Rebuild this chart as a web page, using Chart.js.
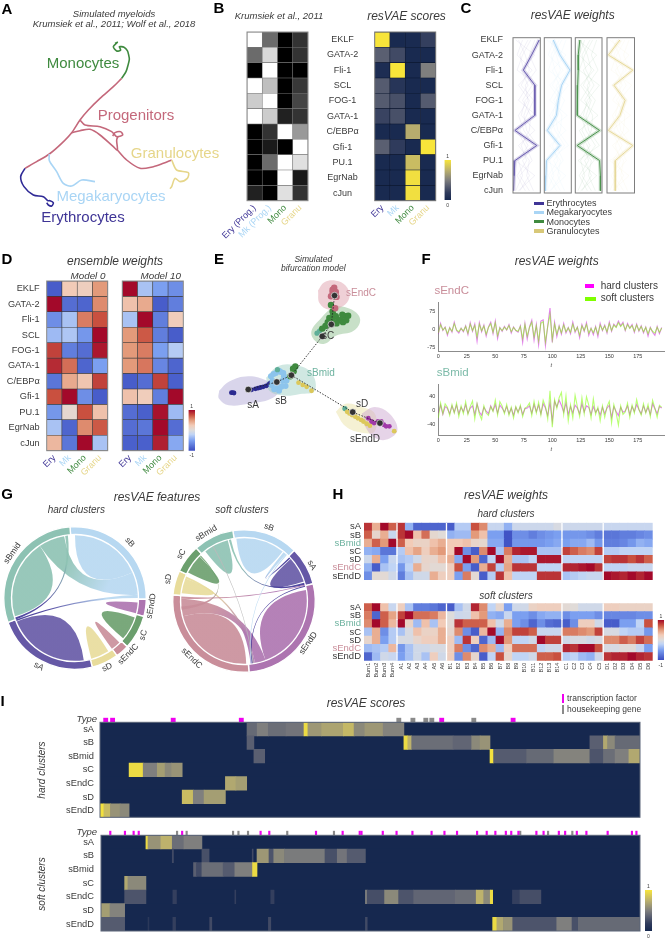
<!DOCTYPE html>
<html>
<head>
<meta charset="utf-8">
<title>resVAE figure</title>
<script src="https://cdn.jsdelivr.net/npm/chart.js@4/dist/chart.umd.js"></script>
<style>
html, body { margin: 0; padding: 0; background: #fff; }
#page { position: relative; width: 665px; height: 938px; overflow: hidden; font-family: "Liberation Sans", Arial, sans-serif; filter: blur(.3px); }
#page canvas { position: absolute; display: block; }
.txt { position: absolute; white-space: nowrap; line-height: 1; }
.sw { position: absolute; }
</style>
</head>
<body>
<div id="page"></div>
<script>
// ---- colours
const cEry = '#3f3596', cMk = '#a9d5f5', cMono = '#3f8a3f', cGranu = '#e6d68a', cProg = '#c4687b';
const cA = '#6558a6', cB = '#b7d8f1', cBmid = '#8dc2b3', cC = '#6b9f6d', cD = '#e8dc9b', cEndC = '#c98e9a', cEndD = '#ad74b0';
const txtCol = '#3a3a3a';

// ---- labels
const genes = ['EKLF', 'GATA-2', 'Fli-1', 'SCL', 'FOG-1', 'GATA-1', 'C/EBPα', 'Gfi-1', 'PU.1', 'EgrNab', 'cJun'];
const cellShort = ['Ery', 'Mk', 'Mono', 'Granu'];
const cellProg = ['Ery (Prog.)', 'Mk (Prog.)', 'Mono', 'Granu'];
const cellCols = [cEry, cMk, cMono, cGranu];
const clusterRowsH = ['sA', 'sB', 'sBmid', 'sC', 'sD', 'sEndC', 'sEndD'];
const clusterRowsI = ['sA', 'sB', 'sBmid', 'sC', 'sEndC', 'sD', 'sEndD'];
const featureCols = ['Burn1', 'Burn2', 'Burn3', 'Burn4', 'A1', 'A2', 'A3', 'A4', 'A5', 'A6', 'B1', 'B2', 'B3', 'B4', 'B5', 'B6', 'B7', 'B8', 'B9', 'B10', 'B11', 'B12', 'B13', 'B14', 'C1', 'C2', 'C3', 'C4', 'C5', 'D1', 'D2', 'D3', 'D4', 'D5', 'D6'];
const featureGaps = [4, 10, 24, 29];

// ---- panel A: trajectory paths
const pathMono = [[345,130],[352,127],[340,140],[350,153],[362,150],[358,140],[372,142],[382,152],[386,165],[388,178],[385,192],[378,215],[365,235]];
const pathProg = [[365,235],[340,260],[300,295],[265,330],[240,360],[215,398],[185,430],[148,462],[110,485],[75,505]];
const pathEry = [[75,505],[62,530],[72,560],[100,585],[130,590],[143,602],[150,602],[160,608],[155,618],[145,615],[140,608]];
const pathProgB = [[240,360],[255,375],[300,380],[335,395],[350,410],[368,405],[362,395],[345,398],[338,408]];
const pathProgC = [[215,398],[240,392],[270,388],[300,405],[340,440],[352,450],[350,420],[355,408]];
const pathProgD = [[352,450],[380,480],[420,505],[460,500],[490,490],[515,480]];
const pathGranu = [[515,480],[530,510],[565,518],[562,535],[540,545],[525,535],[515,560],[510,566]];
const pathMk = [[148,462],[148,482],[170,515],[190,550],[215,558],[245,540],[285,545]];

// ---- panel B
const krumsiek = [
  [1, .42, 0, .2], [.42, .85, 0, .2], [0, 1, 0, 0], [1, .75, 0, .22], [.8, 1, 0, .27], [1, .8, .13, .2],
  [0, .2, 1, .6], [0, .1, 0, 1], [0, .42, 1, .88], [0, 0, 1, .1], [.13, 0, .88, .2]
];
const scoresB = [
  [1, .02, .03, .2], [.35, .25, .02, .02], [.05, 1, .02, .5], [.33, .12, .02, .02], [.33, .28, .02, .33], [.22, .28, .02, .02],
  [.02, .02, .72, .02], [.35, .18, .02, 1], [.02, .02, .8, .02], [.02, .02, .97, .02], [.02, .02, .97, .02]
];

// ---- panel C: main weight profile of each cell type, plus some weaker ones
const weightEry = [.96, .68, .38, .8, .8, .8, .07, .87, .07, .04, .02];
const weightMk = [.33, .58, .95, .64, .52, .45, .11, .58, .08, .06, .04];
const weightMono = [.17, .11, .11, .09, .08, .07, .91, .07, .91, .94, .94];
const weightGranu = [.47, .05, .94, .25, .66, .47, .05, .94, .3, .3, .3];
const faintA = [.2, .45, .6, .3, .75, .5, .25, .55, .2, .35, .1];
const faintB = [.55, .25, .4, .7, .35, .65, .6, .3, .5, .15, .45];
const faintC = [.8, .6, .85, .45, .55, .2, .4, .75, .35, .6, .25];
const faintD = [.1, .8, .3, .55, .2, .85, .15, .45, .7, .25, .6];
const faintE = [.65, .35, .15, .9, .45, .3, .8, .2, .6, .5, .75];
const faintF = [.35, .15, .7, .2, .6, .4, .5, .9, .1, .8, .2];

// ---- panel D
const model0 = [
  [-.9, .25, .2, .5], [1, -.8, -.85, .55], [-.6, -.3, .6, .75], [-.35, -.28, -.55, 1], [.8, -.7, -.8, .95], [.88, .65, -.85, -.5],
  [-.75, .42, .28, .8], [.75, 1, -.6, -.9], [-.55, .08, .75, .3], [-.3, -.85, .55, .72], [.35, -.75, 1, -.3]
];
const model10 = [
  [1, -.3, -.5, -.6], [.3, .42, -.9, -.7], [-.3, 1, -.7, .22], [.5, .72, -.7, -.9], [.5, .6, -.5, -.25], [.5, .62, -.65, -.85],
  [-.9, -.8, .8, -.88], [.3, .22, -.7, 1], [-.8, -.88, .97, -.35], [-.8, -.75, 1, -.8], [-.88, -.88, .92, -.45]
];

// ---- panel E: embedding
const hullEndC = [[955,130],[975,105],[1010,100],[1040,115],[1052,150],[1030,180],[990,190],[960,170]];
const hullC = [[1005,175],[1060,190],[1085,220],[1065,255],[1010,270],[975,295],[945,285],[935,255],[965,215]];
const hullBmid = [[795,400],[830,365],[880,360],[935,385],[945,440],[900,450],[850,455],[805,440]];
const hullA = [[650,440],[680,412],[740,395],[800,410],[835,435],[810,465],[740,480],[680,485],[650,465]];
const hullD = [[1010,505],[1040,480],[1090,490],[1130,510],[1130,565],[1090,570],[1040,550]];
const hullEndD = [[1090,510],[1130,490],[1175,510],[1200,560],[1170,590],[1130,585],[1100,550]];
const ptsNavy = [[692,446],[688,446],[696,447],[750,437],[762,434],[770,432],[778,430],[786,428],[795,425],[803,420],[808,416]];
const ptsLight = [[810,395],[818,388],[825,385],[835,378],[840,382],[815,410],[830,425],[845,410],[855,425],[835,440],[850,395],[820,435],[812,422],[842,428],[858,408],[848,385]];
const ptsTeal = [[960,255],[970,248],[952,262],[830,375],[1038,495]];
const ptsGreen = [[995,175],[1000,195],[990,215],[1002,205],[1010,210],[1018,222],[1025,222],[1040,210],[1048,208],[1032,228],[1012,232],[978,240],[985,228],[968,248],[880,380],[870,395],[885,365],[878,372],[1030,205],[1042,222],[1000,222]];
const ptsPink = [[1000,128],[1005,122],[1005,142],[995,148],[1012,150],[1008,185],[1000,135],[1010,135]];
const ptsYellow = [[895,415],[908,422],[920,428],[935,440],[1045,505],[1052,510],[1060,515],[1070,520],[1078,525],[1088,530],[1095,535],[1105,542],[1115,548],[1190,565]];
const ptsPurple = [[1110,525],[1120,535],[1128,540],[1140,535],[1150,535],[1158,545],[1165,550],[1175,550]];
const edgeUp = [[740,436],[828,413],[873,392],[968,272],[996,235],[1000,200],[1006,146]];
const edgeDown = [[873,392],[1062,506],[1146,540]];
const nodes = [[1006,146],[996,235],[968,272],[873,392],[828,413],[740,436],[1062,506],[1146,540]];

// ---- panel F: weights, every second t
const fHardEndC = [-20,25,-5,10,-25,8,-12,30,-5,-15, 5,-10,15,-22,28,-8,22,-50,28,-10, 18,-28,10,30,-18,35,-38,8,-8,12, -3,20,-15,10,-5,-12,15,-55,25,-40, 10,38,-45,20,-65,35,40,-68,15,90, -55,30,-30,15,-20,25,-15,8,-18,30, -12,10,-35,20,-8,28,-25,5,-22,12, -30,25,-5,18,-15,30,-8,22,10,35, 15,30,-5,25,5,20,-12,22,-8,15, -15,10,-28,8,-12,-25,12,-18,8];
const fSoftEndC = [-15,20,-3,8,-18,6,-8,24,-2,-10, 4,-7,12,-16,22,-5,16,-32,22,-6, 14,-20,8,24,-12,28,-26,6,-5,9, -2,16,-10,8,-4,-8,12,-38,20,-28, 8,30,-32,15,-48,26,32,-52,12,62, -42,22,-20,12,-14,18,-10,6,-12,22, -8,8,-24,15,-5,20,-16,4,-14,9, -20,18,-3,14,-10,24,-5,18,8,28, 12,24,-3,20,4,16,-8,18,-5,12, -10,8,-18,6,-8,-16,9,-12,6];
const fHardBmid = [-8,14,-12,10,5,-10,12,-6,14,-10, 8,-4,15,-9,6,12,-12,18,-5,-14, 8,-3,-10,12,-2,16,-8,14,6,-6, 10,-10,5,-14,8,-5,10,-12,4,6, 12,-8,16,-4,14,-10,18,6,-15,22, -30,25,10,28,14,-5,20,-12,10,-8, 14,6,-10,18,-5,12,8,-12,10,-6, 4,-14,8,-10,6,14,-20,10,-4,-15, 8,-6,-2,12,-12,10,-4,16,2,-10, 12,-6,8,-12,18,4,-10,10,6];
const fSoftBmid = [-22,20,-10,18,8,-15,16,-8,20,-18, 12,-10,24,-12,10,26,-25,18,-10,-26, 12,-8,-15,10,-4,28,-14,24,12,-10, 16,-14,8,-22,10,-8,14,-18,6,10, 20,-15,25,-8,22,-14,28,10,-25,55, -48,30,5,35,50,-12,40,-30,15,-22, 42,10,-18,35,-10,38,14,-22,32,-12, 8,-30,12,-20,10,25,-36,16,-8,-42, 12,-12,-5,20,-20,14,-8,30,2,-14, 18,-8,16,-18,28,6,-20,14,8];

// ---- panel G: ring sizes in degrees, ribbons as [from arc, to arc] in degrees clockwise from the top
const hardRingNames = ['sB', 'sEndD', 'sC', 'sEndC', 'sD', 'sA', 'sBmid'];
const hardRing = [95, 14, 28, 11, 22, 84, 106];
const hardRingCols = [cB, cEndD, cC, cEndC, cD, cA, cBmid];
const hardLinks = [
  [[0, 66], [66, 66], cB, cB],
  [[253, 326], [326, 326], cBmid, cBmid],
  [[172, 248], [248, 248], cA, cA],
  [[94, 104], [104, 104], cEndD, cEndD],
  [[108, 130], [130, 130], cC, cC],
  [[135, 144], [144, 144], cEndC, cEndC],
  [[148, 165], [165, 165], cD, cD],
  [[326, 350], [66, 87], cBmid, cB],
  [[248.5, 250], [87, 90], cEry, cB],
  [[250, 252], [351, 353.5], cEry, cBmid]
];
const softRingNames = ['sB', 'sA', 'sEndD', 'sEndC', 'sD', 'sC', 'sBmid'];
const softRing = [54, 31, 100, 99, 20, 23, 33];
const softRingCols = [cB, cA, cEndD, cEndC, cD, cC, cBmid];
const softLinks = [
  [[-7, 38], [38, 38], cB, cB],
  [[322, 345], [345, 345], cBmid, cBmid],
  [[48, 72], [72, 72], cA, cA],
  [[297, 315], [315, 315], cC, cC],
  [[277, 291], [291, 291], cD, cD],
  [[80, 160], [160, 160], cEndD, cEndD],
  [[178, 256], [256, 256], cEndC, cEndC],
  [[256, 272], [160, 170], cEndC, cEndD],
  [[291, 293], [170, 174], cD, cEndD],
  [[346, 348], [73, 75], cBmid, cEry],
  [[39, 42], [46, 47.5], cB, cEry],
  [[272, 274], [75, 76], cEndC, cEndD],
  [[76, 76.8], [172, 173], cEry, cEry],
  [[42, 43], [173, 174], cB, cB],
  [[330, 331], [171, 172], '#b9b9b9', '#b9b9b9'],
  [[315.5, 316.5], [262, 265], cC, cEndC]
];

// ---- panel H
const hardH = [
  [.85,.4,1,.7, .85,-.4,-.85,-.85,-.85,-.85, -.9,-.25,-.25,.75,.55,-.15,-.15,-.4,-.12,-.12,-.12,-.12,-.12,-.05, -.12,-.12,-.12,-.12,-.12, -.15,-.15,-.15,-.15,-.15,-.15],
  [.7,.1,.4,-.15, .85,1,.3,.65,.08,.02, -.4,-.35,-.35,.5,.3,-.5,-.5,-.95,-.6,-.6,-.7,-.6,-.55,-.5, -.55,-.55,-.55,-.6,-.7, -.75,-.75,-.7,-.7,-.65,-.6],
  [.4,.7,.5,1, .7,.25,.15,.15,.3,.4, .25,.25,.3,.12,.08,-.45,-.45,-.95,-.55,-.55,-.55,-.55,-.5,-.45, -.5,-.45,-.45,-.35,-.55, -.7,-.7,-.65,-.55,-.4,-.45],
  [-.4,-.45,-.75,-.75, -.25,.3,.45,.2,.4,.5, .25,1,-.6,-.9,.55,1,-.3,.6,.9,.95,.95,-.3,-.3,-.3, .8,.7,.6,.55,.8, -.25,-.25,-.2,-.2,-.2,-.2],
  [-.12,.4,-.5,-.15, -.3,-.25,-.1,.12,.1,.3, .4,-.45,1,.5,-.85,-.2,1,.4,-.3,-.3,-.2,.95,.95,.95, -.2,-.2,-.2,-.2,-.2, .8,.85,.85,.75,.85,.7],
  [-.4,-.9,-.3,-.2, -.55,-.2,.4,.1,.05,.05, .2,.75,-.5,-.9,.4,.8,-.25,.45,.85,.85,.85,-.2,-.2,-.2, .9,.9,.95,1,.85, -.2,-.2,-.2,-.15,-.15,-.15],
  [-.6,.05,.05,-.1, -.7,-.3,-.1,-.1,.4,.2, .2,-.5,.6,.05,-.9,-.25,.85,.3,-.2,-.2,-.2,.85,.85,.85, -.3,-.25,-.2,-.15,-.15, 1,.95,.9,1,.9,1]
];
const softH = [
  [.7,1,.3,-.15, .2,-.3,-.7,-.7,-.75,-.85, -.9,-.3,-.1,.9,.55,-.2,.1,-.5,-.1,-.1,.15,.2,.2,.2, .05,.02,-.1,-.1,-.1, .2,.2,.15,.15,.15,.15],
  [.6,-.85,.7,.45, .8,1,.65,.65,.6,.35, 0,-.12,-.1,.3,.5,-.4,-.45,-.15,-.5,-.5,-.6,-.45,-.4,-.4, -.6,-.5,-.5,-.5,-.6, -.65,-.65,-.65,-.65,-.6,-.6],
  [.55,1,.7,.35, 1,.15,-.35,.3,-.3,.25, .05,.85,.7,.7,.7,.3,-.1,.4,-.5,-.6,-.85,-.6,-.8,-.85, -.9,-.6,.2,.2,-.1, -.9,-.9,-.5,-.5,-.2,.75],
  [-.3,.4,-.6,-.25, -.3,-.05,.3,.15,.15,.4, .1,.55,-.6,-.9,.35,1,-.4,.55,.8,.8,.7,-.15,-.15,-.15, .6,.6,.55,.5,.8, -.05,-.05,-.2,-.25,-.25,-.55],
  [.1,.4,-.5,-.25, -.05,-.05,.1,.2,.2,.4, .2,-.35,.85,.2,-.85,-.35,1,.5,-.2,-.2,-.1,1,.8,.8, -.1,-.05,-.05,-.1,-.05, .55,.55,.7,.6,.8,.65],
  [-.35,-.3,-.25,.35, -.55,-.3,-.1,-.1,-.05,-.05, .2,.6,-.6,-.85,.55,.4,-.35,.2,.65,.65,.65,-.2,-.1,-.1, .9,.85,1,1,.75, -.05,-.05,.02,.02,-.15,-.5],
  [-.85,-.35,-.1,-.15, -.5,-.3,-.1,-.3,.2,-.1, .2,-.6,.55,.1,-.9,-.2,.75,.1,-.2,-.2,-.1,.7,.7,.75, -.25,-.2,-.35,-.4,-.1, .85,.9,.9,1,.9,.85]
];

// ---- panel I: [first gene, last gene, score], 180 genes, everything else is 0
const iHardA = [[49,52.4,.4],[52.4,56.1,.5],[56.1,62,.42],[62,68,.45],[68,69.3,.95],[69.3,73.9,.62],[73.9,81.1,.68],[81.1,84.7,.78],[84.7,88.3,.55],[88.3,94.4,.62],[94.4,101.3,.52]];
const iHardB = [[49,51.3,.35],[101.3,102.6,.95],[102.6,103.9,.75],[103.9,117.7,.42],[117.7,123.9,.38],[123.9,126.7,.55],[126.7,130,.6],[163.3,167.8,.35],[167.8,169.2,.7],[169.2,171.7,.55],[171.7,180,.4]];
const iHardBmid = [[51.3,54.9,.35],[130,131.2,.98],[131.2,142.2,.33],[142.2,151.3,.4],[151.3,163.3,.52],[163.3,167.8,.3],[167.8,171.7,.42],[171.7,176.3,.5],[176.3,180,.7]];
const iHardC = [[9.7,14.4,.95],[14.4,19.1,.5],[19.1,21.7,.65],[21.7,23.9,.55],[23.9,27.4,.6]];
const iHardEndC = [[41.8,45.3,.7],[45.3,48.9,.65]];
const iHardD = [[27.4,31.1,.8],[31.1,34.7,.5],[34.7,41.8,.65]];
const iHardEndD = [[0,1.3,.98],[1.3,3.5,.8],[3.5,6.7,.6],[6.7,9.7,.55]];
const iSoftA = [[15,15.7,.95],[15.7,20,.6],[20,23.8,.75],[23.8,27.7,.42],[27.7,33.7,.5]];
const iSoftB = [[23.8,24.2,.25],[33.7,36.1,.28],[50.5,50.8,.25],[52.1,56.1,.62],[56.1,57.7,.3],[57.7,61.3,.55],[61.3,74.8,.48],[74.8,78.9,.28],[78.9,82.2,.45],[82.2,88.3,.33]];
const iSoftBmid = [[30.9,31.9,.35],[31.9,33.7,.25],[33.7,40.8,.42],[40.8,44.7,.33],[44.7,50.6,.5],[50.6,52.1,.95]];
const iSoftC = [[7.9,9,.7],[9,15,.55]];
const iSoftEndC = [[7.9,15,.3],[24,25.2,.2],[44.7,45,.2],[56.7,57.8,.2],[88.3,88.9,.5],[88.9,94.7,.27],[94.7,99.4,.55],[99.4,104.4,.3],[104.4,118.3,.38],[118.3,125.3,.42],[125.3,127.8,.75],[127.8,130,.55],[130,130.8,.95],[137.4,139.9,.2],[139.9,146.9,.27]];
const iSoftD = [[0,3,.65],[3,7.9,.52]];
const iSoftEndD = [[0,7.9,.33],[15.7,16,.15],[24,24.9,.2],[36.3,37,.25],[55.9,56.7,.25],[88.3,88.9,.25],[130.8,132.2,.95],[132.2,134.4,.7],[134.4,137.5,.6],[137.5,152.2,.3],[152.2,157.3,.5],[157.3,159.4,.28],[159.4,180,.4]];
const hardTF = [1.9, 4.2, 24.4, 47.1, 113.9, 137.7];
const hardHK = [99.6, 104.3, 108.6, 110.6, 124.6];
const softTF = [3.1, 8, 10.9, 12.6, 27.1, 53.3, 56.2, 71.8, 80.7, 86.4, 87, 94.1, 98.7, 104, 110.4, 114.7, 118.9, 125.6, 128.8, 131.7, 135.2, 137, 139.4, 145.4, 147.8, 152.9, 155, 158.9, 162.1, 169.2, 177.3, 178.8];
const softHK = [25.4, 28.6, 44.1, 45.9, 49.1, 62.2, 77.8, 140, 149.3, 157.4];

// ---- colour maps
const scoreStops = [[0, '#16284f'], [.18, '#2f3b5c'], [.35, '#5a5f71'], [.5, '#7f7f7e'], [.75, '#bdb26c'], [1, '#f8e53a']];
const weightStops = [[-1, '#3b4cc0'], [-.5, '#7b9ff0'], [-.2, '#c0d4f5'], [0, '#dedcdb'], [.25, '#f2cbb7'], [.5, '#e39a7a'], [.75, '#c9503f'], [1, '#a3092a']];
function hexRgb(h) { return [1, 3, 5].map(i => parseInt(h.substr(i, 2), 16)); }
function rampColor(stops, v) {
  let i = 0;
  while (i < stops.length - 2 && v > stops[i + 1][0]) i++;
  const a = stops[i], b = stops[i + 1];
  const t = Math.min(1, Math.max(0, (v - a[0]) / (b[0] - a[0])));
  const ca = hexRgb(a[1]), cb = hexRgb(b[1]);
  return 'rgb(' + ca.map((c, k) => Math.round(c + (cb[k] - c) * t)).join(',') + ')';
}
const grayColor = v => { const g = Math.round(v * 255); return 'rgb(' + g + ',' + g + ',' + g + ')'; };
const scoreColor = v => rampColor(scoreStops, v);
const weightColor = v => rampColor(weightStops, v);

// ---- helpers
Chart.defaults.animation = false;
Chart.defaults.events = [];
Chart.defaults.responsive = false;
Chart.defaults.plugins.legend.display = false;
Chart.defaults.plugins.tooltip.enabled = false;
Chart.defaults.font.family = '"Liberation Sans", Arial, sans-serif';
Chart.defaults.color = txtCol;

const page = document.getElementById('page');
const noGrid = { display: false, drawTicks: false };

function addText(str, x, y, o = {}) {
  const d = document.createElement('div');
  d.className = 'txt';
  d.textContent = str;
  d.style.left = x + 'px';
  d.style.top = y + 'px';
  d.style.fontSize = (o.size || 9) + 'px';
  d.style.color = o.color || txtCol;
  if (o.italic) d.style.fontStyle = 'italic';
  if (o.bold) d.style.fontWeight = 'bold';
  const ax = o.left ? '0' : '-50%';
  d.style.transform = 'translate(' + ax + ',-50%) rotate(' + (o.rot || 0) + 'deg)';
  page.appendChild(d);
}
function addSwatch(x, y, w, h, color) {
  const d = document.createElement('div');
  d.className = 'sw';
  d.style.cssText = 'left:' + x + 'px;top:' + y + 'px;width:' + w + 'px;height:' + h + 'px;background:' + color;
  page.appendChild(d);
}
// canvas placed so the plot area lands exactly on box
function mount(box, ml = 0, mb = 0, pl = 2, pr = 2, pt = 2) {
  const cx = Math.floor(box.l - ml - pl), cy = Math.floor(box.t - pt);
  const w = Math.ceil(box.r + pr) - cx, h = Math.ceil(box.b + mb + 2) - cy;
  const c = document.createElement('canvas');
  c.width = w; c.height = h;
  c.style.left = cx + 'px'; c.style.top = cy + 'px';
  page.appendChild(c);
  return { c, ctx: c.getContext('2d'), padding: { left: box.l - ml - cx, top: box.t - cy, right: w - (box.r - cx), bottom: h - (box.b + mb - cy) }, area: { l: box.l - cx, t: box.t - cy, r: box.r - cx, b: box.b - cy } };
}
const fit = (w, h) => s => {
  if (w != null) s.width = w;
  if (h != null) s.height = h;
  s.paddingLeft = s.paddingRight = s.paddingTop = s.paddingBottom = 0;
};
const framePlugin = (color, width) => ({
  id: 'frame',
  afterDatasetsDraw(chart) {
    const a = chart.chartArea, ctx = chart.ctx;
    ctx.save();
    ctx.strokeStyle = color;
    ctx.lineWidth = width;
    ctx.strokeRect(a.left, a.top, a.right - a.left, a.bottom - a.top);
    ctx.restore();
  }
});

// floating horizontal bars, used for all heatmaps: bars = [{row, from, to, color}]
function bandChart(o) {
  const m = mount(o.box, o.ml || 0, o.mb || 0, o.pl === undefined ? 2 : o.pl);
  const colors = o.bars.map(b => typeof b.color === 'function' ? b.color(m.ctx, m.area) : b.color);
  const scales = {
    x: { type: 'linear', min: 0, max: o.xMax, display: false },
    y: {
      type: 'category', labels: o.rows, display: !!o.ml,
      grid: noGrid, border: { display: false },
      ticks: { autoSkip: false, padding: o.yPad === undefined ? 4 : o.yPad, font: { size: o.yFont || 9, style: o.yStyle || 'normal' }, color: o.yColor || txtCol, crossAlign: o.yCross || 'near' },
      afterFit: fit(o.ml || 0, null)
    }
  };
  if (o.xLabels) {
    scales.xl = {
      type: 'category', axis: 'x', position: 'bottom', labels: o.xLabels, offset: true,
      grid: noGrid, border: { display: false },
      ticks: { autoSkip: false, minRotation: o.xRot, maxRotation: o.xRot, padding: o.xPad || 2, font: { size: o.xFont || 9 }, color: o.xColor || txtCol },
      afterFit: fit(null, o.mb)
    };
  }
  return new Chart(m.c, {
    type: 'bar',
    data: {
      datasets: [{
        data: o.bars.map(b => ({ y: b.row, x: [b.from, b.to] })),
        backgroundColor: colors,
        borderColor: o.cellBorder || 'rgba(0,0,0,0)',
        borderWidth: o.cellBorder ? .6 : 0,
        borderSkipped: false,
        barPercentage: 1,
        categoryPercentage: 1,
        xAxisID: 'x',
        yAxisID: 'y'
      }]
    },
    options: { indexAxis: 'y', layout: { padding: m.padding }, scales },
    plugins: o.frame ? [framePlugin(o.frame, 1)] : []
  });
}
function matrixBars(rows, matrix, colorFn) {
  const bars = [];
  matrix.forEach((vals, r) => vals.forEach((v, c) => bars.push({ row: rows[r], from: c, to: c + 1, color: colorFn(v) })));
  return bars;
}
function segmentBars(rows, segs, xMax) {
  const bars = rows.map(r => ({ row: r, from: 0, to: xMax, color: scoreColor(0) }));
  segs.forEach((list, r) => list.forEach(s => bars.push({ row: rows[r], from: s[0], to: s[1], color: scoreColor(s[2]) })));
  return bars;
}
function colorBar(box, stops, lo, hi, topLabel, botLabel) {
  bandChart({
    box, rows: ['scale'], xMax: 1,
    bars: [{ row: 'scale', from: 0, to: 1, color: (ctx, area) => {
      const g = ctx.createLinearGradient(0, area.b, 0, area.t);
      stops.forEach(s => g.addColorStop((s[0] - lo) / (hi - lo), s[1]));
      return g;
    } }]
  });
  const mid = (box.l + box.r) / 2;
  addText(topLabel, mid, box.t - 4, { size: 5 });
  addText(botLabel, mid, box.b + 4.5, { size: 5 });
}
const xy = arr => arr.map(p => ({ x: p[0], y: p[1] }));
// scatter with hidden axes, units are embedding coordinates
function embedChart(box, xr, yr, sets) {
  const m = mount(box);
  return new Chart(m.c, {
    type: 'scatter',
    data: { datasets: sets.slice().reverse() },
    options: {
      layout: { padding: m.padding },
      scales: {
        x: { type: 'linear', min: xr[0], max: xr[1], display: false },
        y: { type: 'linear', min: yr[0], max: yr[1], reverse: true, display: false }
      }
    }
  });
}

// ---- A
const lineSet = (arr, color, w = 1.6) => ({ data: xy(arr), showLine: true, borderColor: color, borderWidth: w, pointRadius: 0, tension: .3, fill: false });
embedChart({ l: 0, t: 30, r: 220, b: 240 }, [0, 660], [90, 720], [
  lineSet(pathProg, cProg), lineSet(pathProgB, cProg), lineSet(pathProgC, cProg), lineSet(pathProgD, cProg),
  lineSet(pathMono, cMono), lineSet(pathEry, '#2f2a96'), lineSet(pathMk, cMk), lineSet(pathGranu, cGranu)
]);
addText('Simulated myeloids', 114, 13.5, { size: 9.5, italic: true });
addText('Krumsiek et al., 2011; Wolf et al., 2018', 114, 23.5, { size: 9.5, italic: true });
addText('Monocytes', 83, 62, { size: 15, color: cMono });
addText('Progenitors', 136, 114, { size: 15, color: cProg });
addText('Granulocytes', 175, 152, { size: 15, color: cGranu });
addText('Megakaryocytes', 111, 195, { size: 15, color: cMk });
addText('Erythrocytes', 83, 216, { size: 15, color: cEry });

// ---- B
bandChart({
  box: { l: 247, t: 32, r: 308, b: 200.7 }, rows: genes, xMax: 4, mb: 45, pl: 34,
  xLabels: cellProg, xRot: 45, xFont: 9, xColor: c => cellCols[c.index],
  bars: matrixBars(genes, krumsiek, grayColor), frame: '#8a8a8a', cellBorder: '#777'
});
bandChart({
  box: { l: 374.7, t: 32, r: 435.7, b: 200.7 }, rows: genes, xMax: 4, ml: 62, mb: 35, yFont: 9, yCross: 'center', yPad: 16,
  xLabels: cellShort, xRot: 45, xFont: 9, xColor: c => cellCols[c.index],
  bars: matrixBars(genes, scoresB, scoreColor), frame: '#777', cellBorder: '#0d1830'
});
colorBar({ l: 444.5, t: 160, r: 451, b: 200 }, scoreStops, 0, 1, '1', '0');
addText('Krumsiek et al., 2011', 279, 16, { size: 9.5, italic: true });
addText('resVAE scores', 406.5, 15.5, { size: 12, italic: true });

// ---- C
const parallelSets = [
  [weightEry, '#6a5db0', '106,93,176'], [weightMk, '#a9d5f5', '169,213,245'],
  [weightMono, '#4d944f', '77,148,79'], [weightGranu, '#e6d99a', '230,217,154']
];
const parallelBoxes = [[513, 540.3], [544.3, 571.3], [575.3, 602], [607, 634.5]];
const faintProfiles = [faintA, faintB, faintC, faintD, faintE, faintF];
parallelSets.forEach((set, k) => {
  const box = { l: parallelBoxes[k][0], t: 37.7, r: parallelBoxes[k][1], b: 193 };
  const first = k === 0;
  const m = mount(box, first ? 50 : 0);
  const toPts = arr => arr.map((v, i) => ({ x: v, y: i }));
  const faint = faintProfiles.map(p => ({ data: toPts(p), showLine: true, borderColor: 'rgba(' + set[2] + ',.14)', borderWidth: .6, pointRadius: 0 }));
  new Chart(m.c, {
    type: 'scatter',
    data: {
      datasets: [
        { data: toPts(set[0]), showLine: true, borderColor: set[1], borderWidth: 1, pointRadius: 0 },
        { data: toPts(set[0]), showLine: true, borderColor: 'rgba(' + set[2] + ',.25)', borderWidth: 3.5, pointRadius: 0 }
      ].concat(faint)
    },
    options: {
      layout: { padding: m.padding },
      scales: {
        x: { type: 'linear', min: 0, max: 1, display: false },
        y: {
          type: 'linear', min: -.15, max: 10.15, reverse: true, display: first,
          grid: noGrid, border: { display: false },
          afterBuildTicks: s => { s.ticks = genes.map((g, i) => ({ value: i })); },
          ticks: { autoSkip: false, padding: 10, font: { size: 9 }, callback: v => genes[v] },
          afterFit: fit(first ? 50 : 0, null)
        }
      }
    },
    plugins: [framePlugin('#7d7d7d', 1)]
  });
});
addText('resVAE weights', 572.7, 15, { size: 12, italic: true });
['Erythrocytes', 'Megakaryocytes', 'Monocytes', 'Granulocytes'].forEach((t, i) => {
  addSwatch(533.5, 201.5 + i * 9.3, 10.5, 3.4, [cEry, cMk, cMono, '#d8c878'][i]);
  addText(t, 546.5, 203 + i * 9.3, { size: 9, left: true });
});

// ---- D
const dBox0 = { l: 46.7, t: 281, r: 107.7, b: 450.7 }, dBox10 = { l: 122.3, t: 281, r: 183.3, b: 450.7 };
bandChart({
  box: dBox0, rows: genes, xMax: 4, ml: 44, mb: 34, yFont: 9.2, yPad: 7,
  xLabels: cellShort, xRot: 45, xFont: 9, xColor: c => cellCols[c.index],
  bars: matrixBars(genes, model0, weightColor), frame: '#8a8a8a', cellBorder: '#3a3a3a'
});
bandChart({
  box: dBox10, rows: genes, xMax: 4, mb: 34, pl: 16,
  xLabels: cellShort, xRot: 45, xFont: 9, xColor: c => cellCols[c.index],
  bars: matrixBars(genes, model10, weightColor), frame: '#8a8a8a', cellBorder: '#3a3a3a'
});
colorBar({ l: 188.5, t: 410, r: 195, b: 450.7 }, weightStops, -1, 1, '1', '-1');
addText('ensemble weights', 115, 261, { size: 12, italic: true });
addText('Model 0', 88, 275.7, { size: 9.8, italic: true });
addText('Model 10', 160.7, 275.7, { size: 9.8, italic: true });

// ---- E
const hullSet = (arr, rgb, a) => ({ data: xy(arr.concat([arr[0]])), showLine: true, tension: .4, fill: 'shape', backgroundColor: 'rgba(' + rgb + ',' + a + ')', borderWidth: 0, pointRadius: 0 });
const dotSet = (arr, color, r) => ({ data: xy(arr), pointRadius: r, pointBackgroundColor: color, pointBorderWidth: 0 });
const edgeSet = arr => ({ data: xy(arr), showLine: true, borderColor: '#222', borderWidth: .9, borderDash: [1.5, 1.5], pointRadius: 0 });
embedChart({ l: 210, t: 270, r: 402, b: 450 }, [630, 1206], [75, 615], [
  hullSet(hullA, '180,172,215', .5), hullSet(hullBmid, '150,205,190', .45), hullSet(hullD, '232,222,150', .42),
  hullSet(hullEndD, '200,160,205', .45), hullSet(hullC, '140,190,140', .48), hullSet(hullEndC, '225,170,180', .55),
  dotSet(ptsNavy, '#2b2a90', 2.4), dotSet(ptsLight, '#8cc4ec', 3), dotSet(ptsTeal, '#5fae98', 2.6),
  dotSet(ptsGreen, '#3f8a3f', 3.2), dotSet(ptsPink, '#c4687b', 3.2), dotSet(ptsYellow, '#dcc85a', 2.4), dotSet(ptsPurple, '#a03aa8', 2.4),
  edgeSet(edgeUp), edgeSet(edgeDown),
  { data: xy(nodes), pointRadius: 3.3, pointBackgroundColor: '#333', pointBorderColor: '#fff', pointBorderWidth: .6 }
]);
addText('Simulated', 313.3, 258.5, { size: 8.5, italic: true });
addText('bifurcation model', 313.3, 268, { size: 8.5, italic: true });
addText('sEndC', 361, 292.5, { size: 10, color: cEndC });
addText('sC', 328, 336, { size: 10 });
addText('sBmid', 321, 373, { size: 10, color: '#6fb3a0' });
addText('sA', 253, 404.5, { size: 10 });
addText('sB', 281, 401, { size: 10 });
addText('sD', 362, 403.5, { size: 10 });
addText('sEndD', 365, 438.5, { size: 10 });

// ---- F
const lineF = (vals, color) => ({ data: vals.map((v, i) => ({ x: i * 2, y: v })), showLine: true, borderColor: color, borderWidth: 1.1, pointRadius: 0 });
function weightChart(box, yMin, yMax, yTicks, hard, soft) {
  const m = mount(box, 20, 18);
  new Chart(m.c, {
    type: 'scatter',
    data: { datasets: [lineF(soft, 'rgba(127,255,0,.55)'), lineF(hard, 'rgba(200,0,220,.5)')] },
    options: {
      layout: { padding: m.padding },
      scales: {
        x: {
          type: 'linear', min: 0, max: 198,
          grid: noGrid, border: { color: '#8c8c8c' },
          afterBuildTicks: s => { s.ticks = [0, 25, 50, 75, 100, 125, 150, 175].map(v => ({ value: v })); },
          ticks: { font: { size: 5.5 }, padding: 2, maxRotation: 0, autoSkip: false },
          title: { display: true, text: 't', font: { size: 5.5, style: 'italic' }, padding: 0 },
          afterFit: fit(null, 18)
        },
        y: {
          type: 'linear', min: yMin, max: yMax,
          grid: noGrid, border: { color: '#8c8c8c' },
          afterBuildTicks: s => { s.ticks = yTicks.map(v => ({ value: v })); },
          ticks: { font: { size: 5.5 }, padding: 3 },
          afterFit: fit(20, null)
        }
      }
    }
  });
}
weightChart({ l: 438.3, t: 302, r: 664, b: 351 }, -91, 115, [-75, 0, 75], fHardEndC, fSoftEndC);
weightChart({ l: 438.3, t: 384.3, r: 664, b: 435 }, -70, 73, [-40, 0, 40], fHardBmid, fSoftBmid);
addText('resVAE weights', 556.7, 260.7, { size: 12, italic: true });
addText('sEndC', 451.7, 291, { size: 11.5, color: cEndC });
addText('sBmid', 452.7, 373, { size: 11.5, color: '#7dbba9' });
addSwatch(585, 283.8, 9, 4, '#ff00ff');
addSwatch(585, 296.5, 11, 4, '#7fff00');
addText('hard clusters', 600.7, 285.7, { size: 10, left: true });
addText('soft clusters', 600.7, 298.3, { size: 10, left: true });

// ---- G
const ribbonsPlugin = links => ({
  id: 'ribbons',
  afterDatasetsDraw(chart) {
    const arc = chart.getDatasetMeta(0).data[0];
    const cx = arc.x, cy = arc.y, r = arc.outerRadius - 8.5, ctx = chart.ctx;
    const rad = d => (d - 90) * Math.PI / 180;
    const pt = d => [cx + r * Math.cos(rad(d)), cy + r * Math.sin(rad(d))];
    ctx.save();
    links.forEach(l => {
      const [s, t, cs, ct] = l;
      const p0 = pt((s[0] + s[1]) / 2), p1 = pt((t[0] + t[1]) / 2);
      const g = ctx.createLinearGradient(p0[0], p0[1], p1[0], p1[1]);
      g.addColorStop(.25, cs);
      g.addColorStop(.75, ct);
      ctx.fillStyle = g;
      ctx.globalAlpha = .9;
      ctx.beginPath();
      ctx.arc(cx, cy, r, rad(s[0]), rad(s[1]));
      const a = pt(t[0]);
      ctx.quadraticCurveTo(cx, cy, a[0], a[1]);
      ctx.arc(cx, cy, r, rad(t[0]), rad(t[1]));
      const b = pt(s[0]);
      ctx.quadraticCurveTo(cx, cy, b[0], b[1]);
      ctx.closePath();
      ctx.fill();
    });
    ctx.restore();
  }
});
function chordChart(cx, cy, R, names, sizes, cols, rotation, links) {
  const m = mount({ l: cx - R - 1, t: cy - R - 1, r: cx + R + 1, b: cy + R + 1 });
  new Chart(m.c, {
    type: 'doughnut',
    data: { labels: names, datasets: [{ data: sizes, backgroundColor: cols, borderColor: '#fff', borderWidth: 1.4 }] },
    options: { rotation, cutout: '89%', layout: { padding: m.padding } },
    plugins: [ribbonsPlugin(links)]
  });
}
chordChart(75, 598, 71, hardRingNames, hardRing, hardRingCols, -4, hardLinks);
chordChart(244, 601, 71, softRingNames, softRing, softRingCols, -9, softLinks);
addText('resVAE features', 157, 496.7, { size: 12, italic: true });
addText('hard clusters', 76.3, 510, { size: 10, italic: true });
addText('soft clusters', 242, 510, { size: 10, italic: true });
const hardLabelPos = [['sBmid', 12, 552.7, -55], ['sB', 130, 542, 50], ['sEndD', 150.7, 606, -80], ['sC', 142.7, 635, -75], ['sEndC', 127.7, 654, -45], ['sD', 107, 667, -25], ['sA', 39, 666, 30]];
const softLabelPos = [['sBmid', 206, 533, -30], ['sB', 269, 527, 20], ['sA', 312, 565, 60], ['sEndD', 308, 643, -55], ['sEndC', 192, 658, 45], ['sD', 168, 579, -80], ['sC', 181, 554, -60]];
hardLabelPos.concat(softLabelPos).forEach(p => addText(p[0], p[1], p[2], { size: 8.5, rot: p[3] }));

// ---- H
const hColor = c => (c.tick.label === 'sBmid' ? '#6fb3a0' : c.tick.label === 'sEndC' ? cEndC : txtCol);
function featureBars(matrix) {
  const bars = matrixBars(clusterRowsH, matrix, weightColor);
  clusterRowsH.forEach(r => featureGaps.forEach(g => bars.push({ row: r, from: g - .04, to: g + .04, color: '#fff' })));
  return bars;
}
bandChart({
  box: { l: 364, t: 522.7, r: 652.7, b: 580 }, rows: clusterRowsH, xMax: 35, ml: 33, yFont: 9.5, yPad: 3, yColor: hColor,
  bars: featureBars(hardH)
});
bandChart({
  box: { l: 364, t: 603.3, r: 652.7, b: 660.7 }, rows: clusterRowsH, xMax: 35, ml: 33, mb: 22, yFont: 9.5, yPad: 3, yColor: hColor,
  xLabels: featureCols, xRot: 90, xFont: 5.5, xPad: 2,
  bars: featureBars(softH)
});
colorBar({ l: 657.7, t: 620, r: 664, b: 660 }, weightStops, -1, 1, '1', '-1');
addText('resVAE weights', 506, 495, { size: 12, italic: true });
addText('hard clusters', 506, 514, { size: 10, italic: true });
addText('soft clusters', 506, 595.7, { size: 10, italic: true });

// ---- I
const typeBars = (tf, hk, half) => hk.map(v => ({ row: 'Type', from: v - half, to: v + half, color: '#8a8a8a' }))
  .concat(tf.map(v => ({ row: 'Type', from: v - half, to: v + half, color: '#f000f0' })));
bandChart({
  box: { l: 100, t: 717.7, r: 640, b: 722 }, rows: ['Type'], xMax: 180, ml: 24, yFont: 9.5, yStyle: 'italic', yPad: 3,
  bars: typeBars(hardTF, hardHK, .7)
});
bandChart({
  box: { l: 100, t: 722.3, r: 640, b: 817.3 }, rows: clusterRowsI, xMax: 180, ml: 38, yFont: 9.3, yPad: 6,
  bars: segmentBars(clusterRowsI, [iHardA, iHardB, iHardBmid, iHardC, iHardEndC, iHardD, iHardEndD], 180), frame: '#5b6478'
});
bandChart({
  box: { l: 101, t: 830.7, r: 640, b: 835 }, rows: ['Type'], xMax: 180, ml: 24, yFont: 9.5, yStyle: 'italic', yPad: 4,
  bars: typeBars(softTF, softHK, .25)
});
bandChart({
  box: { l: 101, t: 835.3, r: 640, b: 931 }, rows: clusterRowsI, xMax: 180, ml: 38, yFont: 9.3, yPad: 7,
  bars: segmentBars(clusterRowsI, [iSoftA, iSoftB, iSoftBmid, iSoftC, iSoftEndC, iSoftD, iSoftEndD], 180), frame: '#5b6478'
});
colorBar({ l: 645, t: 890, r: 652, b: 931 }, scoreStops, 0, 1, '1', '0');
addText('hard clusters', 42, 770, { size: 10, italic: true, rot: -90 });
addText('soft clusters', 42, 884, { size: 10, italic: true, rot: -90 });
addText('resVAE scores', 366, 703, { size: 12, italic: true });
addSwatch(561.7, 693.5, 2.5, 9.5, '#f000f0');
addSwatch(561.7, 704.5, 2.5, 9.5, '#8a8a8a');
addText('transcription factor', 567, 698, { size: 8.5, left: true });
addText('housekeeping gene', 567, 708.5, { size: 8.5, left: true });

// ---- panel letters
[['A', 7, 8], ['B', 219, 7], ['C', 466, 7], ['D', 7, 258], ['E', 219, 258], ['F', 426, 258], ['G', 7, 493], ['H', 338, 493], ['I', 2.5, 700]].forEach(l => {
  addText(l[0], l[1], l[2], { size: 15, bold: true, color: '#000' });
});
</script>
</body>
</html>
